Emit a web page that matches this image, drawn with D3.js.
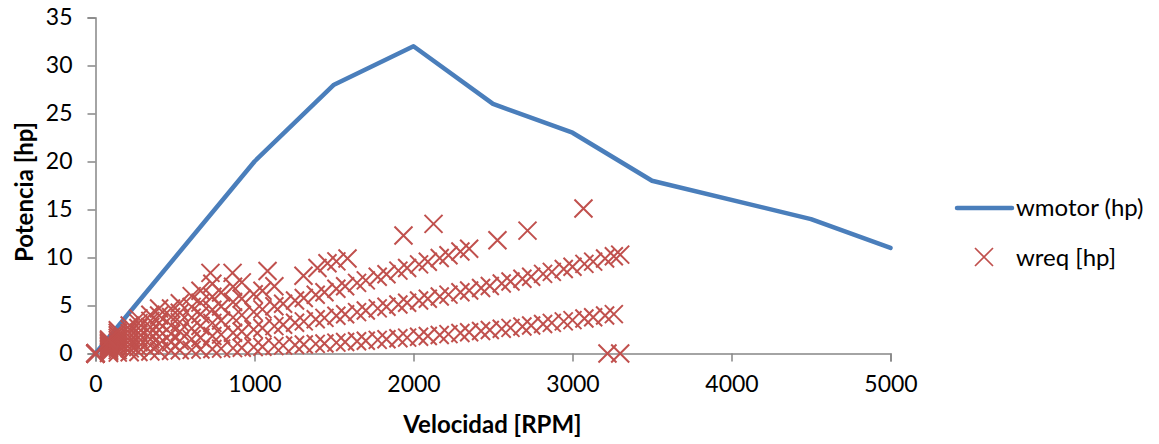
<!DOCTYPE html>
<html>
<head>
<meta charset="utf-8">
<script src="https://cdn.jsdelivr.net/npm/d3@7"></script>
<style>
  html, body { margin: 0; padding: 0; background: #fff; }
  svg { display: block; }
  text { font-family: Lato, "Open Sans", sans-serif; }
</style>
</head>
<body>
<svg id="chart" width="1159" height="444"></svg>
<script>
// ---- data ----
const motorRpm   = [0, 1000, 1500, 2000, 2500, 3000, 3500, 4500, 5000];
const motorPower = [0, 20, 28, 32, 26, 23, 18, 14, 11];

const rpmGrid = [0,85,140,215,270,345,400,475,530,605,660,735,790,865,920,995,1050,1125,1180,1255,1310,1385,1440,1515,1570,1645,1700,1775,1830,1905,1960,2035,2090,2165,2220,2295,2350,2425,2480,2555,2610,2685,2740,2815,2870,2945,3000,3075,3130,3205,3260];

const reqGrade0 = [0,0.05,0.09,0.13,0.16,0.21,0.25,0.29,0.33,0.38,0.42,0.47,0.51,0.56,0.60,0.66,0.71,0.77,0.82,0.88,0.93,1.00,1.05,1.13,1.19,1.27,1.33,1.42,1.48,1.58,1.65,1.75,1.83,1.93,2.02,2.13,2.22,2.34,2.44,2.57,2.67,2.81,2.92,3.08,3.19,3.35,3.48,3.65,3.78,3.96,4.10];
const reqGrade1 = [0,0.21,0.35,0.53,0.66,0.85,0.99,1.17,1.31,1.50,1.64,1.83,1.97,2.16,2.30,2.50,2.65,2.85,3.00,3.20,3.35,3.56,3.71,3.93,4.09,4.31,4.48,4.70,4.87,5.10,5.28,5.52,5.70,5.94,6.13,6.38,6.57,6.83,7.03,7.30,7.50,7.78,7.99,8.29,8.50,8.80,9.03,9.34,9.57,9.89,10.13];
const reqGrade2 = [0,0.36,0.61,0.93,1.16,1.49,1.73,2.05,2.29,2.62,2.86,3.19,3.43,3.76,4.00,4.34,4.60,4.93,5.19,5.52,5.78,6.12,6.38,6.74,7.00,7.36,7.62,7.99,8.25,8.63,8.90,9.28,9.56,9.94,10.23,10.62,10.92];
const reqGrade3 = [0,0.52,0.87,1.32,1.66,2.12,2.47,2.93,3.27,3.74,4.08,4.55,4.89,5.36,5.71,6.18,6.54,7.01];
const reqGrade4 = [0,0.68,1.13,1.72,2.16,2.76,3.21,3.81,4.25,4.86,5.30,5.91,6.36,6.96,7.41];
const reqGrade5 = [0,0.84,1.39,2.12,2.66,3.40,3.95,4.69,5.23,5.98,6.53,7.27];
const reqGrade6 = [0,0.99,1.64,2.52,3.16,4.04,4.69];
const reqGrade7 = [0,1.15,1.90,2.92,3.66];
const reqGrade8 = [0,1.31,2.16];
const reqGrade9 = [0,1.46,2.42];

const extraRpm   = [723, 862, 1082, 1308, 1396, 1459, 1515, 1585, 1937, 2126, 2528, 2717, 3069, 3300, 3220, 3300];
const extraPower = [8.4, 8.4, 8.6, 8.1, 8.9, 9.4, 9.6, 9.9, 12.3, 13.5, 11.8, 12.8, 15.1, 10.3, 0, 0];

const xTicks = [0, 1000, 2000, 3000, 4000, 5000];
const yTicks = [0, 5, 10, 15, 20, 25, 30, 35];
const seriesNames = ["wmotor (hp)", "wreq [hp]"];
const xTitle = "Velocidad [RPM]";
const yTitle = "Potencia [hp]";

// ---- build point table ----
const reqPoints = [];
[reqGrade0, reqGrade1, reqGrade2, reqGrade3, reqGrade4, reqGrade5, reqGrade6, reqGrade7, reqGrade8, reqGrade9]
  .forEach(arr => arr.forEach((p, i) => reqPoints.push({ rpm: rpmGrid[i], hp: p })));
extraRpm.forEach((r, i) => reqPoints.push({ rpm: r, hp: extraPower[i] }));
const motorPoints = motorRpm.map((r, i) => ({ rpm: r, hp: motorPower[i] }));

// ---- drawing ----
const blue = "#4a7ebb", red = "#c0504d", axisGrey = "#868686";
const svg = d3.select("#chart");
const x = d3.scaleLinear().domain([0, 5000]).range([95.5, 890.5]);
const y = d3.scaleLinear().domain([0, 35]).range([353.5, 17.5]);

const xAxis = svg.append("g").attr("transform", "translate(0,353.5)")
  .call(d3.axisBottom(x).tickValues(xTicks).tickSize(8).tickPadding(14).tickFormat(d3.format("d")));
const yAxis = svg.append("g").attr("transform", "translate(95.5,0)")
  .call(d3.axisLeft(y).tickValues(yTicks).tickSize(8).tickPadding(15).tickFormat(d3.format("d")));
[xAxis, yAxis].forEach(g => {
  g.select(".domain").attr("stroke", axisGrey).attr("stroke-width", 1.5);
  g.selectAll(".tick line").attr("stroke", axisGrey).attr("stroke-width", 1.5);
  g.selectAll(".tick text").attr("fill", "#000").style("font-size", "23px").style("font-family", "Lato, sans-serif");
});

// motor line
svg.append("path").datum(motorPoints)
  .attr("fill", "none").attr("stroke", blue).attr("stroke-width", 4.5)
  .attr("stroke-linejoin", "round").attr("stroke-linecap", "round")
  .attr("d", d3.line().x(d => x(d.rpm)).y(d => y(d.hp)));

// required power crosses
const crossPath = "M-9,-9L9,9M-9,9L9,-9";
svg.append("g").selectAll("path").data(reqPoints).join("path")
  .attr("transform", d => `translate(${x(d.rpm)},${y(d.hp)})`)
  .attr("d", crossPath).attr("stroke", red).attr("stroke-width", 2).attr("fill", "none");

// axis titles
svg.append("text").attr("x", 492.5).attr("y", 433).attr("text-anchor", "middle")
  .style("font-size", "24px").style("font-weight", "bold").text(xTitle);
svg.append("text").attr("transform", "translate(33,192) rotate(-90)").attr("text-anchor", "middle")
  .style("font-size", "24px").style("font-weight", "bold").text(yTitle);

// legend
const lg = svg.append("g");
lg.append("line").attr("x1", 957).attr("x2", 1012).attr("y1", 208).attr("y2", 208)
  .attr("stroke", blue).attr("stroke-width", 4.5).attr("stroke-linecap", "round");
lg.append("text").attr("x", 1016).attr("y", 216).style("font-size", "24px").text(seriesNames[0]);
lg.append("path").attr("transform", "translate(984,257)").attr("d", "M-9,-9L9,9M-9,9L9,-9")
  .attr("stroke", red).attr("stroke-width", 1.7).attr("fill", "none");
lg.append("text").attr("x", 1016).attr("y", 266).style("font-size", "24px").text(seriesNames[1]);
</script>
</body>
</html>
